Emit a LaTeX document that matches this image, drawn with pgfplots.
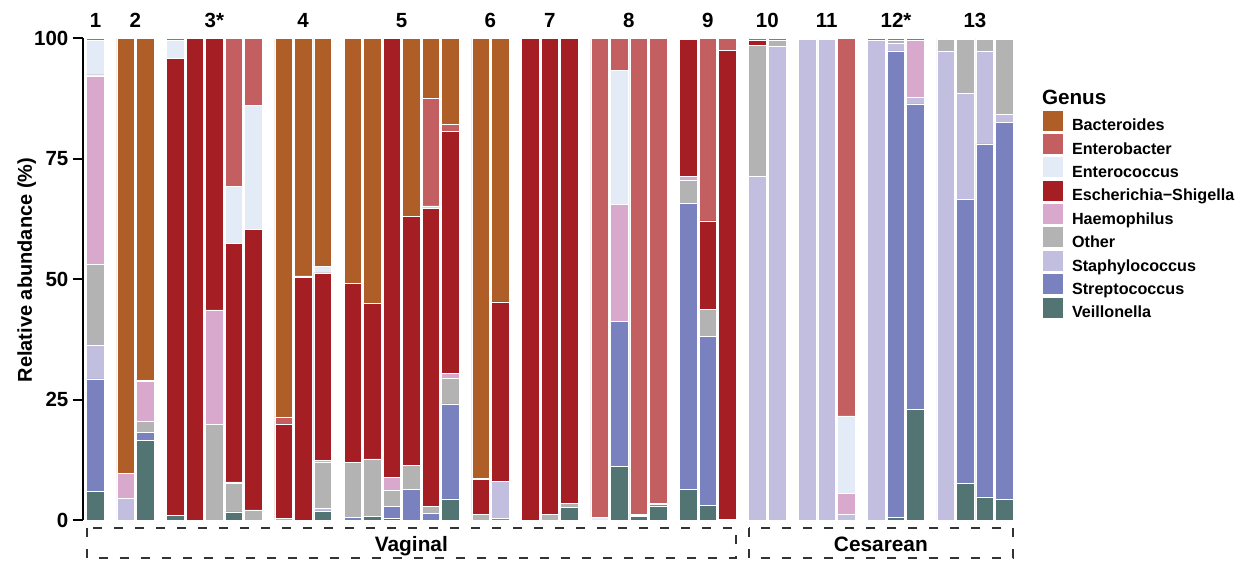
\documentclass[border=0pt]{standalone}
\usepackage{fontspec}
\setmainfont{Liberation Sans}
\usepackage{pgfplots}
\usepackage{pgfplotstable}
\pgfplotsset{compat=1.18}

\definecolor{cBac}{HTML}{B05E28}
\definecolor{cEnb}{HTML}{C35E61}
\definecolor{cEnc}{HTML}{E3EBF6}
\definecolor{cEsc}{HTML}{A51E23}
\definecolor{cHae}{HTML}{D9A9CD}
\definecolor{cOth}{HTML}{B3B3B3}
\definecolor{cSta}{HTML}{C2BEDF}
\definecolor{cStr}{HTML}{7A81BF}
\definecolor{cVei}{HTML}{527574}

% columns: position, Veillonella, Streptococcus, Staphylococcus, Other,
% Haemophilus, Escherichia-Shigella, Enterococcus, Enterobacter, Bacteroides
\pgfplotstableread{
x V St Sa O H E Ec Eb B
0 5.9 23.4 7.0 16.7 39.2 0.2 7.2 0.4 0
1.55 0 0 4.5 0 5.1 0 0 0 90.4
2.55 16.6 1.6 0 2.3 8.2 0 0 0.4 70.9
4.1 0.9 0 0 0 0 95.0 3.7 0.4 0
5.1 0 0 0 0 0 100 0 0 0
6.1 0 0 0 19.8 23.8 56.4 0 0 0
7.1 1.7 0 0 5.9 0.3 49.5 11.9 30.7 0
8.1 0 0 0 2.1 0 58.3 25.7 13.9 0
9.65 0 0 0 0.3 0 19.6 0 1.5 78.6
10.65 0 0 0 0 0 50.3 0.4 0 49.3
11.65 1.9 0 0.6 9.4 0.4 39.0 1.4 0 47.3
13.2 0 0.5 0 11.5 0 37.1 0 0 50.9
14.2 0.7 0 0 12.0 0 32.3 0 0 55.0
15.2 0.3 2.6 0 3.2 2.8 91.1 0 0 0
16.2 0 6.4 0 5.0 0 51.6 0 0 37.0
17.2 0 1.3 0 1.5 0 62.0 0.4 22.4 12.4
18.2 4.4 19.7 0 5.4 0.9 50.3 0 1.5 17.8
19.75 0 0 0 1.1 0 7.3 0 0.3 91.3
20.75 0 0.3 7.7 0 0 37.3 0 0 54.7
22.3 0 0 0 0 0 100 0 0 0
23.3 0 0 0 1.2 0 98.8 0 0 0
24.3 2.6 0 0 0.8 0 96.6 0 0 0
25.85 0 0 0 0 0 0 0.5 99.5 0
26.85 11.2 30.1 0 0 24.2 0 27.9 6.6 0
27.85 0.7 0.3 0 0 0 0.2 0 98.8 0
28.85 2.9 0.3 0 0.3 0 0 0 96.5 0
30.4 6.4 59.3 0 4.8 0.9 28.4 0 0.2 0
31.4 3.0 35.1 0 5.6 0 18.4 0 37.9 0
32.4 0 0.2 0 0 0 97.3 0 2.5 0
33.95 0 0 71.4 27.2 0 1.0 0 0.4 0
34.95 0 0 98.4 1.2 0 0 0 0.4 0
36.5 0 0 99.7 0.3 0 0 0 0 0
37.5 0 0 99.7 0.3 0 0 0 0 0
38.5 0 0 1.1 0 4.5 0 16.0 78.4 0
40.05 0 0 99.6 0 0 0 0 0.4 0
41.05 0.5 96.9 1.5 0.7 0 0 0 0.4 0
42.05 22.9 63.5 1.4 0 11.8 0 0 0.4 0
43.6 0 0 97.4 2.4 0 0 0 0.2 0
44.6 7.6 59.0 22.0 11.2 0 0 0 0.2 0
45.6 4.8 73.3 19.2 2.5 0 0 0 0.2 0
46.6 4.3 78.3 1.6 15.6 0 0 0 0.2 0
}\datatable

\begin{document}
\begin{tikzpicture}
\path[use as bounding box] (0pt,0pt) rectangle (750.6pt,338.4pt);
\begin{axis}[
  at={(49.6pt,26.4pt)}, anchor=south west,
  scale only axis, width=558.2pt, height=289.0pt,
  xmin=-0.656, xmax=47.05, ymin=0, ymax=100,
  enlargelimits=false, clip=false,
  axis x line=none, axis y line*=left,
  y axis line style={line width=1.1pt, black},
  ytick={0,25,50,75,100}, xtick=\empty,
  tick align=outside, major tick length=6pt,
  ytick style={line width=1.1pt, black},
  /pgf/number format/assume math mode=true,
  yticklabel style={font=\bfseries\fontsize{12.3}{14}\selectfont, inner sep=0pt, xshift=-2.4pt},
  ylabel={Relative abundance (\%)},
  ylabel style={font=\bfseries\fontsize{12}{14}\selectfont, at={(axis description cs:-0.0545,0.519)}, anchor=base},
  ybar stacked, bar width=0.9,
  every axis plot/.append style={draw=white, line width=0.35pt},
  reverse legend,
  legend cell align=left,
  legend image code/.code={
    \path[#1, draw=white, line width=0.35pt] (0pt,-2.8pt) rectangle (12.6pt,9.8pt);
    \path[draw=none, fill=none] (0pt,3.5pt) -- (18pt,3.5pt);
  },
  legend style={at={(1.0309,0.852)}, anchor=north west, draw=none, fill=none,
    inner sep=0pt, outer sep=0pt, row sep=-0.18pt,
    font=\bfseries\fontsize{9.7}{11}\selectfont,
    nodes={inner sep=0pt, outer sep=0pt}},
]
\addplot[fill=cVei] table[x=x, y=V] {\datatable};
\addlegendentry{Veillonella}
\addplot[fill=cStr] table[x=x, y=St] {\datatable};
\addlegendentry{Streptococcus}
\addplot[fill=cSta] table[x=x, y=Sa] {\datatable};
\addlegendentry{Staphylococcus}
\addplot[fill=cOth] table[x=x, y=O] {\datatable};
\addlegendentry{Other}
\addplot[fill=cHae] table[x=x, y=H] {\datatable};
\addlegendentry{Haemophilus}
\addplot[fill=cEsc] table[x=x, y=E] {\datatable};
\addlegendentry{Escherichia−Shigella}
\addplot[fill=cEnc] table[x=x, y=Ec] {\datatable};
\addlegendentry{Enterococcus}
\addplot[fill=cEnb] table[x=x, y=Eb] {\datatable};
\addlegendentry{Enterobacter}
\addplot[fill=cBac] table[x=x, y=B] {\datatable};
\addlegendentry{Bacteroides}

% facet labels
\foreach \gx/\gl in {0/1, 2.05/2, 6.1/3*, 10.65/4, 15.7/5, 20.25/6, 23.3/7, 27.35/8, 31.4/9, 34.45/10, 37.5/11, 41.05/12*, 45.1/13} {
  \edef\temp{\noexpand\node[anchor=base, inner sep=0pt, font=\noexpand\bfseries\noexpand\fontsize{12.3}{14}\noexpand\selectfont, yshift=6.6pt] at (axis cs:\gx,100) {\gl};}
  \temp
}

% delivery mode boxes
\draw[line width=1pt, color=black!80, dash pattern=on 5.4pt off 7.2pt]
  (axis cs:-0.45,-1.66) rectangle (axis cs:32.85,-7.89);
\draw[line width=1pt, color=black!80, dash pattern=on 5.4pt off 7.2pt]
  (axis cs:33.5,-1.66) rectangle (axis cs:47.05,-7.89);
\node[anchor=base, inner sep=0pt, font=\bfseries\fontsize{12.5}{14}\selectfont] at (axis cs:16.2,-6.58) {Vaginal};
\node[anchor=base, inner sep=0pt, font=\bfseries\fontsize{12.5}{14}\selectfont] at (axis cs:40.275,-6.58) {Cesarean};
\end{axis}
\node[anchor=west, inner sep=0pt, font=\bfseries\fontsize{12.4}{14}\selectfont] at (625pt,279.9pt) {Genus};
\end{tikzpicture}
\end{document}
